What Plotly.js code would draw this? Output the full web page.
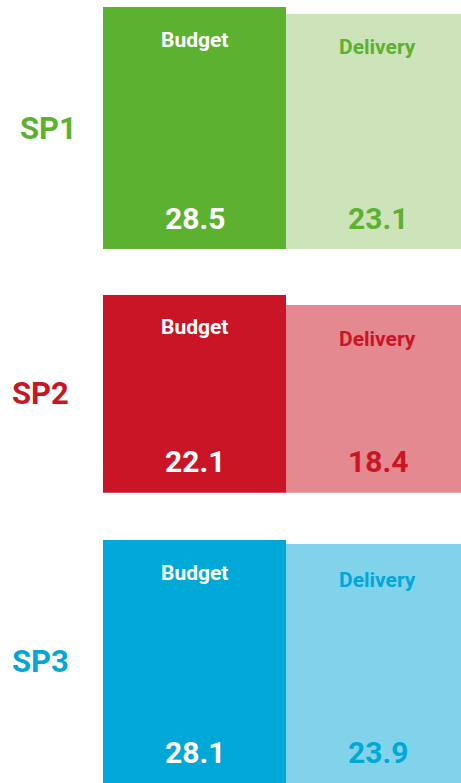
<!DOCTYPE html>
<html><head><meta charset="utf-8">
<script src="https://cdn.plot.ly/plotly-3.0.1.min.js"></script>
<style>html,body{margin:0;padding:0;background:#fff;}#chart{width:461px;height:783px;}</style>
</head><body><div id="chart"></div>
<script>
// ---- data ----
const groups = ['SP1', 'SP2', 'SP3'];
const measures = ['Budget', 'Delivery'];
const budget = [28.5, 22.1, 28.1];
const delivery = [23.1, 18.4, 23.9];

// ---- styles ----
const strongColors = ['#5DB131', '#C91526', '#00A8D7'];
const lightColors = ['#CDE3B9', '#E4898F', '#80D3EB'];
const FONT = 'Roboto, "DejaVu Sans", sans-serif';

// per-panel layout (pixel-matched domains, axis range floor used as bar base)
const panelDomains = [[0.6816, 0.9911], [0.3708, 0.6232], [0.0, 0.3103]];
const panelBase = [-158.2, -51.2, -227.1];
const groupLabelX = [0.106, 0.087, 0.087];
const nameShift = [[-33, -33], [-32, -34], [-33, -36]];

const traces = [];
const annotations = [];
const layout = {
  width: 461, height: 783,
  margin: {l: 0, r: 0, t: 0, b: 0},
  paper_bgcolor: '#ffffff', plot_bgcolor: 'rgba(0,0,0,0)',
  showlegend: false, bargap: 0,
  font: {family: FONT}
};

groups.forEach((g, i) => {
  const n = i === 0 ? '' : String(i + 1);
  const xa = 'x' + n, ya = 'y' + n;
  const vals = [budget[i], delivery[i]];
  traces.push({
    type: 'bar',
    x: measures,
    y: vals.map(v => v - panelBase[i]),
    base: panelBase[i],
    width: 1,
    marker: {color: [strongColors[i], lightColors[i]], line: {width: 0}},
    xaxis: xa, yaxis: ya,
    hoverinfo: 'skip'
  });
  layout['xaxis' + n] = {
    domain: [0.2234, 1], range: [-0.5, 1.456], type: 'category',
    visible: false, fixedrange: true, anchor: ya
  };
  layout['yaxis' + n] = {
    domain: panelDomains[i], range: [panelBase[i], budget[i]],
    visible: false, fixedrange: true, anchor: xa
  };
  const textCols = ['#ffffff', strongColors[i]];
  measures.forEach((m, j) => {
    // measure name near the top of the bar
    annotations.push({
      xref: xa, yref: ya, x: m, y: vals[j], yshift: nameShift[i][j],
      text: m, showarrow: false, xanchor: 'center', yanchor: 'middle',
      font: {family: FONT, size: 21, color: textCols[j], weight: 700}
    });
    // value near the bottom of the bar
    annotations.push({
      xref: xa, yref: ya + ' domain', x: m, y: 0, yshift: 31,
      text: vals[j].toFixed(1), showarrow: false, xanchor: 'center', yanchor: 'middle',
      font: {family: FONT, size: 30, color: textCols[j], weight: 700}
    });
  });
  // group label on the left
  annotations.push({
    xref: 'paper', yref: ya + ' domain', x: groupLabelX[i], y: 0.5,
    text: g, showarrow: false, xanchor: 'center', yanchor: 'middle',
    font: {family: FONT, size: 31, color: strongColors[i], weight: 700}
  });
});
layout.annotations = annotations;

Plotly.newPlot('chart', traces, layout, {displayModeBar: false, staticPlot: true});
</script>
</body></html>
